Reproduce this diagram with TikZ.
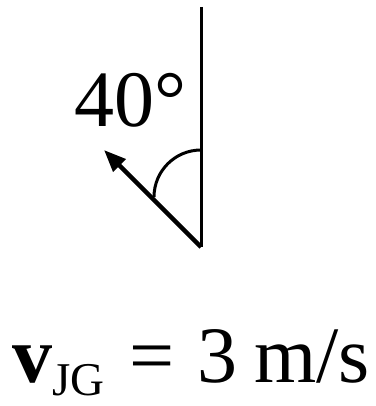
\documentclass[tikz,border=0pt]{standalone}
\usepackage{fontspec}
\setmainfont{Liberation Serif}
\usetikzlibrary{arrows.meta}
\begin{document}
\begin{tikzpicture}[x=1pt,y=-1pt,
  axisline/.style={line width=3pt},
  vecline/.style={line width=4.5pt,-{Triangle[length=22pt,width=17pt]}},
  arcline/.style={line width=3pt},
  bigtext/.style={inner sep=0pt,anchor=base west,font=\fontsize{80}{80}\selectfont}]
\useasboundingbox (0,0) rectangle (375,406);
\coordinate (top) at (201,7);
\coordinate (O) at (201,247);
\coordinate (tip) at (104,150);
\coordinate (arcstart) at (201,150);
\draw[axisline] (top) -- (O);
\draw[vecline] (O) -- (tip);
\draw[arcline] (arcstart) arc (270:180:47);
\node[bigtext] (ang) at (74,127) {40°};
\node[bigtext] (vel) at (12,382) {\textbf{v}};
\node[inner sep=0pt,anchor=base west,font=\fontsize{47}{47}\selectfont] (sub) at (52,395) {JG};
\node[bigtext] (eq) at (129,382) {=};
\node[bigtext] (three) at (197,382) {3};
\node[bigtext] (unit) at (254,382) {m/s};
\end{tikzpicture}
\end{document}
